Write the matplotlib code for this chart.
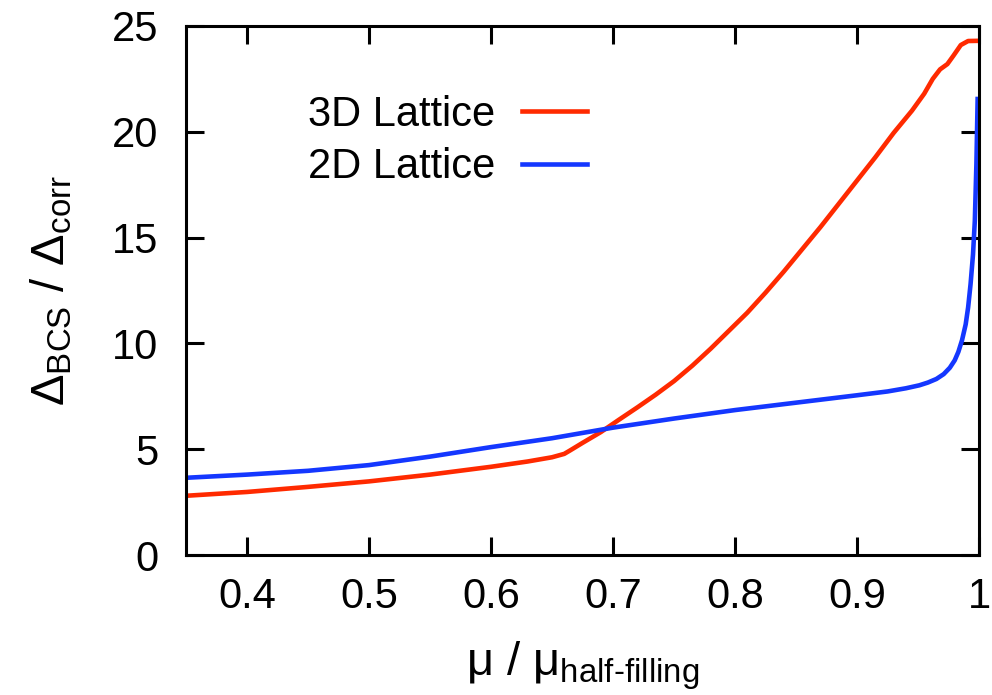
import matplotlib
matplotlib.use("Agg")
import matplotlib.pyplot as plt
from matplotlib.ticker import FuncFormatter

plt.rcParams['font.family'] = ['Liberation Sans', 'DejaVu Sans']
plt.rcParams['mathtext.fontset'] = 'custom'
plt.rcParams['mathtext.rm'] = 'Liberation Sans'
plt.rcParams['mathtext.it'] = 'Liberation Sans'

# gap ratio vs. chemical potential (mu / mu_half-filling)
mu_3d = [0.35, 0.40, 0.45, 0.50, 0.55, 0.60, 0.63, 0.65, 0.66, 0.665, 0.675,
         0.69, 0.705, 0.72, 0.735, 0.75, 0.765, 0.78, 0.795, 0.81, 0.825,
         0.84, 0.855, 0.87, 0.885, 0.90, 0.915, 0.93, 0.945, 0.955, 0.962,
         0.968, 0.974, 0.979, 0.985, 0.991, 1.0]
ratio_3d = [2.80, 2.98, 3.22, 3.48, 3.80, 4.17, 4.42, 4.62, 4.78, 4.95, 5.30,
            5.81, 6.40, 6.98, 7.58, 8.22, 8.95, 9.75, 10.6, 11.45, 12.4,
            13.4, 14.45, 15.5, 16.6, 17.7, 18.8, 19.95, 21.0, 21.8, 22.5,
            22.95, 23.2, 23.6, 24.1, 24.29, 24.3]

mu_2d = [0.35, 0.40, 0.45, 0.50, 0.55, 0.60, 0.65, 0.70, 0.75, 0.80, 0.85,
         0.90, 0.925, 0.94, 0.951, 0.958, 0.965, 0.971, 0.976, 0.980, 0.983,
         0.986, 0.989, 0.991, 0.993, 0.995, 0.9965, 0.9978, 0.9988]
ratio_2d = [3.65, 3.80, 3.98, 4.25, 4.65, 5.10, 5.52, 6.02, 6.45, 6.85, 7.2,
            7.55, 7.73, 7.88, 8.02, 8.15, 8.32, 8.55, 8.85, 9.2, 9.6,
            10.15, 10.9, 11.7, 12.8, 14.2, 15.8, 18.5, 21.55]

labels = ['3D Lattice', '2D Lattice']
colors = ['#ff2a00', '#1437ff']

fig = plt.figure(figsize=(9.92, 6.95), dpi=100)
ax = fig.add_axes([0.1875, 0.2014, 0.7995, 0.7612])

ax.plot(mu_3d, ratio_3d, color=colors[0], lw=3.3, label=labels[0])
ax.plot(mu_2d, ratio_2d, color=colors[1], lw=3.3, label=labels[1])

ax.set_xlim(0.35, 1.0)
ax.set_ylim(0, 25)
ax.set_xticks([0.4, 0.5, 0.6, 0.7, 0.8, 0.9, 1.0])
ax.set_yticks([0, 5, 10, 15, 20, 25])
ax.xaxis.set_major_formatter(FuncFormatter(lambda v, p: '%g' % v))

for s in ax.spines.values():
    s.set_linewidth(2.2)
ax.tick_params(direction='in', length=13, width=2.2, labelsize=30,
               top=True, right=True)
ax.tick_params(axis='x', pad=16)
ax.tick_params(axis='y', pad=20)

ax.set_xlabel(r'$\mu$ / $\mu_{\mathrm{half\text{-}filling}}$', fontsize=34)
ax.set_ylabel(r'$\Delta_{\mathrm{BCS}}$ / $\Delta_{\mathrm{corr}}$', fontsize=34)
ax.xaxis.set_label_coords(0.5, -0.16)
ax.yaxis.set_label_coords(-0.14, 0.5)

ax.legend(loc='upper right', bbox_to_anchor=(0.505, 0.87), frameon=False,
          markerfirst=False, fontsize=30, handlelength=1.56,
          handletextpad=0.63, labelspacing=0.3, borderpad=0,
          borderaxespad=0)

fig.savefig('out.png', dpi=100)
